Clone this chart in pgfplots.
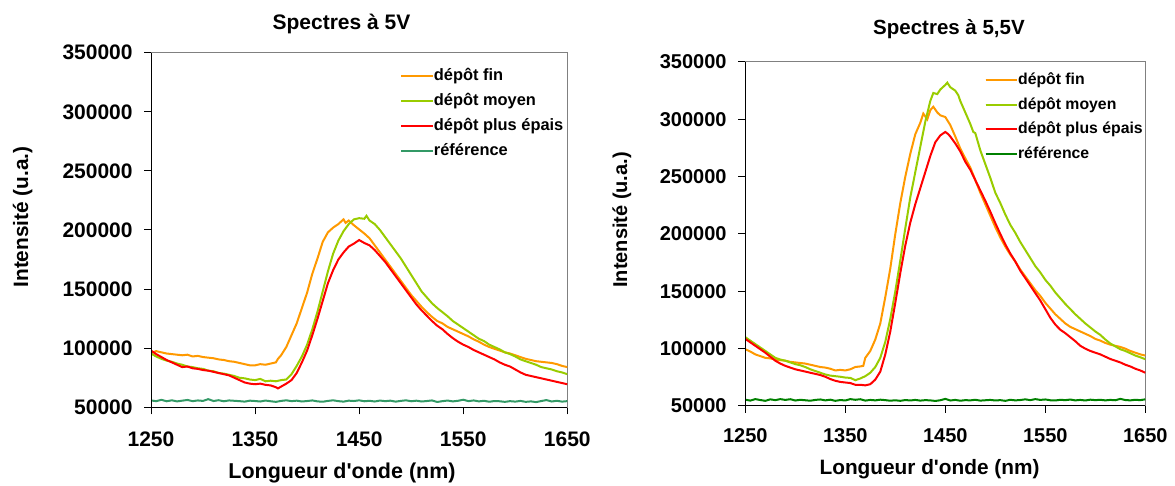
\documentclass[border=0pt]{standalone}
\usepackage{fontspec}
\setmainfont{Liberation Sans}
\usepackage{pgfplots}
\pgfplotsset{compat=1.18}
\definecolor{cfin}{RGB}{255,153,0}
\definecolor{cmoy}{RGB}{153,204,0}
\definecolor{cep}{RGB}{255,0,0}
\definecolor{crefa}{RGB}{51,153,102}
\definecolor{crefb}{RGB}{0,128,0}
\pgfplotsset{spec/.style={
  scale only axis, anchor=south west,
  xmin=1250, xmax=1650, ymin=50000, ymax=350000,
  xtick={1250,1350,1450,1550,1650},
  ytick={50000,100000,150000,200000,250000,300000,350000},
  scaled y ticks=false,
  /pgf/number format/assume math mode=true,
  /pgf/number format/1000 sep={},
  /pgf/number format/fixed,
  tick align=outside, major tick length=3.5pt,
  xtick pos=bottom, ytick pos=left,
  axis line style={draw=gray, line width=0.5pt},
  tick style={black, line width=0.5pt},
  every axis plot/.append style={line width=1pt, no marks},
  legend cell align=left,
  legend image code/.code={\draw[##1] (0pt,0pt) -- (12.5pt,0pt); \path (0pt,0pt) -- (15.8pt,0pt);},
  extra description/.code={\draw[black, line width=0.5pt] (rel axis cs:0,1) -- (rel axis cs:0,0) -- (rel axis cs:1,0);},
}}
\begin{document}
\begin{tikzpicture}
\useasboundingbox (0,0) rectangle (587.5pt,243pt);
% ---------------- left panel ----------------
\begin{axis}[spec,
  at={(75.5pt,39.35pt)}, width=208.15pt, height=177.3pt,
  ticklabel style={font=\bfseries\fontsize{10.5}{12}\selectfont},
  yticklabel style={anchor=east, inner sep=0pt, xshift=-5.5pt},
  xticklabel style={anchor=north, inner sep=0pt, yshift=-8.7pt},
  legend style={draw=none, fill=none, at={(0.598,0.957)}, anchor=north west, inner sep=0pt, row sep=5pt,
    font=\bfseries\fontsize{8.2}{9}\selectfont, nodes={inner sep=0pt, text height=6pt, text depth=1.5pt}},
]
\addplot[cfin] coordinates {
(1250,96000)(1255,97500)(1260,96500)(1265,95500)(1270,95000)(1275,94500)(1280,94000)(1285,94500)(1290,93000)(1295,93500)
(1300,92500)(1305,92000)(1310,91500)(1315,90500)(1320,90000)(1325,89000)(1330,88500)(1335,87500)(1340,86500)(1345,85500)
(1350,85500)(1355,86500)(1360,86000)(1365,87000)(1370,88000)(1372,91000)(1375,94000)(1380,101000)(1385,111000)(1390,121000)
(1395,134000)(1400,147000)(1405,163000)(1410,176000)(1415,190000)(1420,198000)(1425,202000)(1430,205000)(1435,209000)(1437,206000)
(1440,208000)(1445,204000)(1450,200500)(1455,197000)(1460,193000)(1465,187000)(1470,181000)(1475,175000)(1480,169000)(1485,163000)
(1490,157000)(1495,151000)(1500,145000)(1505,140000)(1510,135000)(1515,130500)(1520,126500)(1525,123000)(1530,121000)(1535,118000)
(1540,116000)(1545,114000)(1550,112000)(1555,110000)(1560,107500)(1565,105500)(1570,103000)(1575,101000)(1580,99500)(1585,98000)
(1590,96500)(1595,95500)(1600,94000)(1605,92500)(1610,91000)(1615,90000)(1620,89000)(1625,88500)(1630,88000)(1635,87500)
(1640,86500)(1645,85000)(1650,84000)};
\addlegendentry{dépôt fin}
\addplot[cmoy] coordinates {
(1250,95500)(1255,93000)(1260,91000)(1265,89500)(1270,88500)(1275,87000)(1280,86000)(1285,84500)(1290,84000)(1295,83000)
(1300,82500)(1305,81000)(1310,80500)(1315,79000)(1320,78500)(1325,77500)(1330,76500)(1335,75000)(1340,74500)(1345,73500)
(1350,73000)(1355,74000)(1360,72000)(1365,72500)(1370,72000)(1375,73000)(1380,73500)(1385,78000)(1390,85000)(1395,93000)
(1400,103000)(1405,116000)(1410,131000)(1415,148000)(1420,165000)(1425,180000)(1430,191000)(1435,199000)(1440,205000)(1445,209000)
(1450,210000)(1455,209500)(1457,212000)(1460,208000)(1465,205000)(1470,200000)(1475,194000)(1480,188000)(1485,182000)(1490,176000)
(1495,169000)(1500,162000)(1505,155000)(1510,148000)(1515,143000)(1520,138000)(1525,134000)(1530,130500)(1535,127000)(1540,123000)
(1545,120000)(1550,117000)(1555,114000)(1560,111000)(1565,108000)(1570,106000)(1575,103000)(1580,101000)(1585,99000)(1590,96500)
(1595,95000)(1600,93000)(1605,90500)(1610,89000)(1615,87500)(1620,86000)(1625,84000)(1630,83000)(1635,82000)(1640,80500)
(1645,79500)(1650,78000)};
\addlegendentry{dépôt moyen}
\addplot[cep] coordinates {
(1250,98000)(1255,95000)(1260,92500)(1265,90000)(1270,88000)(1275,86000)(1280,84000)(1285,84500)(1290,83000)(1295,82500)
(1300,81500)(1305,81000)(1310,80000)(1315,79000)(1320,78000)(1325,77000)(1330,75000)(1335,73000)(1340,71000)(1345,70000)
(1350,69500)(1355,70000)(1360,69000)(1365,68500)(1370,67000)(1372,66000)(1375,67500)(1380,70000)(1385,73000)(1390,79000)
(1395,88000)(1400,98000)(1405,111000)(1410,125000)(1415,140000)(1420,155000)(1425,166000)(1430,175000)(1435,181000)(1440,186000)
(1445,188500)(1450,191500)(1453,190000)(1455,189000)(1460,187000)(1465,183000)(1470,178000)(1475,173000)(1480,167000)(1485,161000)
(1490,155000)(1495,149000)(1500,143000)(1505,137000)(1510,132000)(1515,127500)(1520,123000)(1525,119000)(1530,116000)(1535,112000)
(1540,108500)(1545,105500)(1550,103000)(1555,101000)(1560,98500)(1565,96500)(1570,94500)(1575,92500)(1580,90500)(1585,88000)
(1590,86000)(1595,84500)(1600,82000)(1605,79500)(1610,77500)(1615,76500)(1620,75500)(1625,74500)(1630,73500)(1635,72500)
(1640,71500)(1645,70500)(1650,69500)};
\addlegendentry{dépôt plus épais}
\addplot[crefa] coordinates {
(1250,55800)(1255,55200)(1260,56300)(1265,55100)(1270,55900)(1275,55000)(1280,55600)(1285,56200)(1290,55200)(1295,55800)
(1300,55400)(1305,56900)(1310,55300)(1315,56000)(1320,55100)(1325,55800)(1330,55500)(1335,55200)(1340,54800)(1345,55600)
(1350,55300)(1355,54900)(1360,55700)(1365,55100)(1370,54600)(1375,55400)(1380,55900)(1385,55200)(1390,55600)(1395,54900)
(1400,55300)(1405,55800)(1410,55000)(1415,54700)(1420,55400)(1425,55900)(1430,55200)(1435,54800)(1440,55600)(1445,55300)
(1450,55900)(1455,55100)(1460,55500)(1465,54900)(1470,55700)(1475,55200)(1480,55600)(1485,54800)(1490,55400)(1495,55900)
(1500,55100)(1505,55600)(1510,54900)(1515,55300)(1520,55800)(1525,54500)(1530,55200)(1535,55700)(1540,55000)(1545,55500)
(1550,56400)(1555,55200)(1560,55800)(1565,55000)(1570,55500)(1575,54700)(1580,55300)(1585,55100)(1590,54600)(1595,55200)
(1600,54800)(1605,55400)(1610,54600)(1615,55000)(1620,54400)(1625,55300)(1630,56100)(1635,54900)(1640,55500)(1645,54800)
(1650,55200)};
\addlegendentry{référence}
\end{axis}
% ---------------- right panel ----------------
\begin{axis}[spec,
  at={(372.65pt,40pt)}, width=200pt, height=172pt,
  ticklabel style={font=\bfseries\fontsize{10}{12}\selectfont},
  yticklabel style={anchor=east, inner sep=0pt, xshift=-5.65pt},
  xticklabel style={anchor=north, inner sep=0pt, yshift=-7.7pt},
  legend style={draw=none, fill=none, at={(0.597,0.970)}, anchor=north west, inner sep=0pt, row sep=4.75pt,
    font=\bfseries\fontsize{7.9}{9}\selectfont, nodes={inner sep=0pt, text height=6pt, text depth=1.5pt}},
]
\addplot[cfin] coordinates {
(1250,99500)(1255,97500)(1260,95000)(1265,93500)(1270,92000)(1275,91500)(1280,90500)(1285,90000)(1290,89500)(1295,88500)
(1300,88000)(1305,87500)(1310,87000)(1315,86000)(1320,85000)(1325,84000)(1330,83500)(1335,82500)(1340,81000)(1345,81500)
(1350,81000)(1355,82000)(1360,84000)(1365,84500)(1368,85000)(1370,92000)(1375,98000)(1380,108000)(1385,122000)(1390,145000)
(1395,170000)(1400,200000)(1405,227000)(1410,250000)(1415,270000)(1420,287000)(1425,297000)(1428,305000)(1432,300000)(1435,308000)
(1438,311000)(1442,306000)(1445,303500)(1450,302000)(1455,295000)(1460,285000)(1465,274500)(1470,266000)(1475,258000)(1480,247000)
(1485,236000)(1490,226000)(1495,216000)(1500,206000)(1505,197000)(1510,189000)(1515,182000)(1520,176000)(1525,169000)(1530,163000)
(1535,157000)(1540,151000)(1545,146000)(1550,140000)(1555,135000)(1560,130000)(1565,126000)(1570,122000)(1575,119000)(1580,117000)
(1585,115000)(1590,113000)(1595,111000)(1600,108500)(1605,107000)(1610,105000)(1615,103500)(1620,102500)(1625,101500)(1630,100000)
(1635,98000)(1640,96500)(1645,95000)(1650,94000)};
\addlegendentry{dépôt fin}
\addplot[cmoy] coordinates {
(1250,110000)(1255,107000)(1260,104000)(1265,101000)(1270,98000)(1275,95000)(1280,92000)(1285,90500)(1290,89500)(1295,88000)
(1300,86500)(1305,85500)(1310,84000)(1315,82000)(1320,80500)(1325,79000)(1330,77500)(1335,76500)(1340,76000)(1345,75500)
(1350,74800)(1355,74500)(1360,72500)(1365,74000)(1370,76000)(1375,79000)(1380,84000)(1385,92000)(1390,106000)(1395,126000)
(1400,150000)(1405,177000)(1410,205000)(1415,232000)(1420,254000)(1425,276000)(1430,298000)(1435,316000)(1438,323000)(1442,322000)
(1445,326000)(1450,330000)(1452,332000)(1455,328000)(1460,325000)(1463,321000)(1465,316000)(1470,306000)(1475,296000)(1478,289000)
(1480,288000)(1485,273000)(1490,261000)(1495,249000)(1500,236000)(1505,227000)(1510,217000)(1515,208000)(1520,201000)(1525,193000)
(1530,186000)(1535,179000)(1540,172000)(1545,166500)(1550,160000)(1555,155000)(1560,149000)(1565,144000)(1570,139000)(1575,134500)
(1580,130000)(1585,126000)(1590,122000)(1595,118500)(1600,115000)(1605,112000)(1610,108000)(1615,104500)(1620,102000)(1625,99500)
(1630,98000)(1635,96000)(1640,94000)(1645,92500)(1650,90800)};
\addlegendentry{dépôt moyen}
\addplot[cep] coordinates {
(1250,108500)(1255,105500)(1260,102500)(1265,99500)(1270,96500)(1275,93000)(1280,89500)(1285,87000)(1290,85000)(1295,83500)
(1300,82000)(1305,81000)(1310,80000)(1315,79000)(1320,78000)(1325,77000)(1330,75500)(1335,73500)(1340,72000)(1345,71000)
(1350,70500)(1355,70000)(1360,68500)(1365,68500)(1370,68000)(1375,69000)(1380,73000)(1385,80000)(1390,95000)(1395,115000)
(1400,140000)(1405,166000)(1410,190000)(1415,210000)(1420,226000)(1425,240000)(1430,254000)(1435,268000)(1440,280000)(1445,286000)
(1450,289000)(1453,287000)(1455,285000)(1460,279000)(1465,272000)(1470,263000)(1475,256000)(1480,247000)(1485,238000)(1490,229000)
(1495,219500)(1500,209500)(1505,200000)(1510,191000)(1515,183000)(1520,176000)(1525,168000)(1530,161500)(1535,155000)(1540,148500)
(1545,142000)(1550,134500)(1555,127000)(1560,121000)(1565,116500)(1570,113500)(1575,110000)(1580,106500)(1585,102500)(1590,100000)
(1595,98000)(1600,96500)(1605,95000)(1610,93000)(1615,91000)(1620,89500)(1625,88000)(1630,86000)(1635,84500)(1640,82500)
(1645,81000)(1650,79000)};
\addlegendentry{dépôt plus épais}
\addplot[crefb] coordinates {
(1250,55500)(1255,54700)(1260,56000)(1265,55200)(1270,54500)(1275,55800)(1280,55100)(1285,56000)(1290,55300)(1295,55900)
(1300,54800)(1305,55400)(1310,55000)(1315,54600)(1320,55300)(1325,55700)(1330,54900)(1335,55500)(1340,54500)(1345,55200)
(1350,54800)(1355,56000)(1360,55400)(1365,55900)(1370,54700)(1375,55300)(1380,54900)(1385,55500)(1390,55100)(1395,54600)
(1400,55000)(1405,54500)(1410,55200)(1415,54800)(1420,55300)(1425,54700)(1430,55100)(1435,54900)(1440,54400)(1445,55000)
(1450,56200)(1455,54800)(1460,55300)(1465,54600)(1470,55100)(1475,54900)(1480,55400)(1485,54700)(1490,55000)(1495,55300)
(1500,54800)(1505,55100)(1510,54500)(1515,55400)(1520,54900)(1525,55200)(1530,55800)(1535,55100)(1540,56000)(1545,55300)
(1550,55700)(1555,55000)(1560,54800)(1565,55400)(1570,55100)(1575,55600)(1580,54900)(1585,55300)(1590,54800)(1595,55500)
(1600,55100)(1605,55400)(1610,54900)(1615,55300)(1620,55000)(1625,56200)(1630,55200)(1635,54900)(1640,55400)(1645,55100)
(1650,55800)};
\addlegendentry{référence}
\end{axis}
% ---------------- titles and axis labels ----------------
\node[anchor=base, font=\bfseries\fontsize{10.5}{12}\selectfont] at (170.75pt,228pt) {Spectres à 5V};
\node[anchor=base, font=\bfseries\fontsize{10.25}{12}\selectfont] at (474.5pt,225.85pt) {Spectres à 5,5V};
\node[anchor=base, font=\bfseries\fontsize{10.75}{12}\selectfont] at (171pt,3.5pt) {Longueur d\textquotesingle onde (nm)};
\node[anchor=base, font=\bfseries\fontsize{10.4}{12}\selectfont] at (464.75pt,5.5pt) {Longueur d\textquotesingle onde (nm)};
\node[anchor=base, rotate=90, font=\bfseries\fontsize{10.4}{12}\selectfont] at (14pt,134.5pt) {Intensité (u.a.)};
\node[anchor=base, rotate=90, font=\bfseries\fontsize{10}{12}\selectfont] at (313.5pt,133pt) {Intensité (u.a.)};
\end{tikzpicture}
\end{document}
